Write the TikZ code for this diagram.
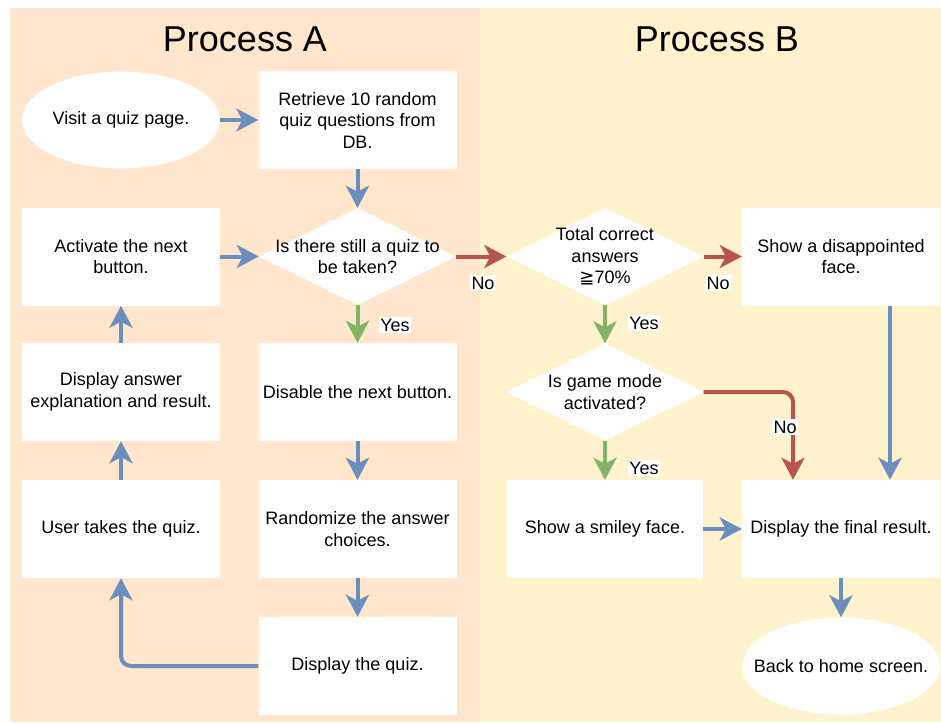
\documentclass[tikz,border=0pt]{standalone}
\usepackage{fontspec}
\setmainfont{Liberation Sans}
\newfontfamily\symfont{DejaVu Sans}
\usetikzlibrary{shapes.geometric,arrows.meta}
\definecolor{panA}{HTML}{FFE6CC}
\definecolor{panB}{HTML}{FFF2CC}
\definecolor{ablue}{HTML}{6C8EBF}
\definecolor{ared}{HTML}{B85450}
\definecolor{agreen}{HTML}{82B366}
\begin{document}
\begin{tikzpicture}[x=1pt,y=-1pt,
  box/.style={rectangle,fill=white,minimum width=198pt,minimum height=98pt,inner sep=0pt,align=center,font=\fontsize{18}{21.5}\selectfont},
  oval/.style={ellipse,fill=white,minimum width=198pt,minimum height=97pt,inner sep=0pt},
  dia/.style={diamond,fill=white,minimum width=197pt,minimum height=97pt,inner sep=0pt},
  txt/.style={align=center,inner sep=0pt,font=\fontsize{18}{21.5}\selectfont},
  title/.style={anchor=base,inner sep=0pt,font=\fontsize{36}{40}\selectfont},
  conn/.style={line width=4pt,-{Stealth[length=22pt,width=23pt,inset=6pt]}},
  flowblue/.style={conn,draw=ablue},
  flowred/.style={conn,draw=ared},
  flowgreen/.style={conn,draw=agreen},
  lbl/.style={fill=white,inner sep=1.5pt,font=\fontsize{18}{21.5}\selectfont}]
\useasboundingbox (0,0) rectangle (941,722);
\fill[panA] (10,8) rectangle (480,722);
\fill[panB] (480,8) rectangle (941,722);
\node[title] (tA) at (245,52) {Process A};
\node[title] (tB) at (717,52) {Process B};
% Process A
\node[oval] (visit) at (121,120) {};
\node[txt] (visitT) at (visit) {Visit a quiz page.};
\node[box] (retr) at (357.5,120) {Retrieve 10 random\\quiz questions from\\DB.};
\node[dia] (q1) at (357.5,256.5) {};
\node[txt] (q1T) at (q1) {Is there still a quiz to\\be taken?};
\node[box] (act) at (121,256.5) {Activate the next\\button.};
\node[box] (expl) at (121,392) {Display answer\\explanation and result.};
\node[box] (disable) at (357.5,392) {Disable the next button.};
\node[box] (user) at (121,529) {User takes the quiz.};
\node[box] (rand) at (357.5,529) {Randomize the answer\\choices.};
\node[box] (quiz) at (357.5,666) {Display the quiz.};
% Process B
\node[dia] (tot) at (605,256.5) {};
\node[txt] (totT) at (tot) {Total correct\\answers\\{\symfont ≧}70\%};
\node[box] (dis) at (841,256.5) {Show a disappointed\\face.};
\node[dia] (game) at (605,392) {};
\node[txt] (gameT) at (game) {Is game mode\\activated?};
\node[box,minimum width=196pt] (smile) at (605,529) {Show a smiley face.};
\node[box] (final) at (841,529) {Display the final result.};
\node[oval] (home) at (841,666) {};
\node[txt] (homeT) at (home) {Back to home screen.};
% connectors
\draw[flowblue] (visit) -- (retr);
\draw[flowblue] (retr) -- (q1);
\draw[flowblue] (act) -- (q1);
\draw[flowred] (q1) -- (tot);
\draw[flowred] (tot) -- (dis);
\draw[flowgreen] (q1) -- (disable);
\draw[flowgreen] (tot) -- (game);
\draw[flowgreen] (game) -- (smile);
\draw[flowred,rounded corners=10pt] (game.east) -| ([xshift=-48pt]final.north);
\draw[flowblue] (disable) -- (rand);
\draw[flowblue] (rand) -- (quiz);
\draw[flowblue,rounded corners=10pt] (quiz.west) -| (user.south);
\draw[flowblue] (user) -- (expl);
\draw[flowblue] (expl) -- (act);
\draw[flowblue] (smile) -- (final);
\draw[flowblue] ([xshift=49pt]dis.south) -- ([xshift=49pt]final.north);
\draw[flowblue] (final) -- (home);
% labels
\node[lbl] (no1) at (483,283) {No};
\node[lbl] (no2) at (718,283) {No};
\node[lbl] (no3) at (785,427) {No};
\node[lbl] (yes1) at (395,325) {Yes};
\node[lbl] (yes2) at (644,323) {Yes};
\node[lbl] (yes3) at (644,468) {Yes};
\end{tikzpicture}
\end{document}
